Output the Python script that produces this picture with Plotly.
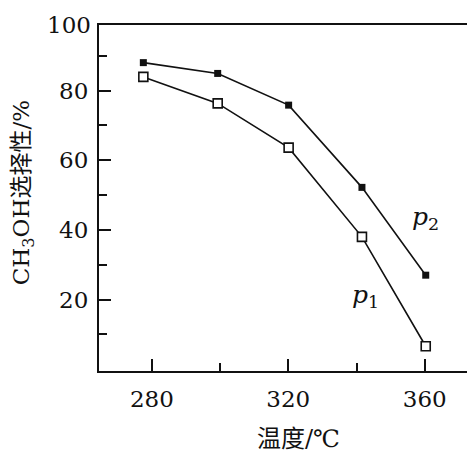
import plotly.graph_objects as go

# Reaction temperature (°C) and CH3OH selectivity (%) at two pressures
temperature = [277.5, 299.3, 320.1, 341.6, 360.3]
selectivity_p2 = [88.0, 84.9, 75.8, 52.2, 27.0]
selectivity_p1 = [83.9, 76.3, 63.6, 38.0, 6.6]

x_major = [280, 320, 360]
x_minor = [300, 340]
y_major = [20, 40, 60, 80]
y_minor = [10, 30, 50, 70, 90]

NUM_FONT = "DejaVu Serif, Liberation Serif, serif"
CJK_FONT = "DejaVu Serif, Noto Sans CJK SC, serif"
INK = "#111111"

fig = go.Figure()

fig.add_trace(go.Scatter(
    x=temperature, y=selectivity_p2, mode="lines+markers",
    line=dict(color=INK, width=1.6),
    marker=dict(symbol="square", size=7, color=INK, line=dict(width=0)),
    name="p2", showlegend=False,
))
fig.add_trace(go.Scatter(
    x=temperature, y=selectivity_p1, mode="lines+markers",
    line=dict(color=INK, width=1.6),
    marker=dict(symbol="square", size=9, color="white", line=dict(color=INK, width=1.6)),
    name="p1", showlegend=False,
))

fig.update_layout(
    width=467, height=453,
    margin=dict(l=99, r=0, t=25, b=82),
    paper_bgcolor="white", plot_bgcolor="white",
    font=dict(family=NUM_FONT, size=23, color=INK),
    xaxis=dict(
        range=[264.5, 372.4], showgrid=False, zeroline=False,
        showline=True, linecolor=INK, linewidth=2, mirror=True,
        tickvals=x_major, ticks="inside", ticklen=12, tickwidth=1.5, tickcolor=INK,
        minor=dict(tickvals=x_minor, ticks="inside", ticklen=8, tickwidth=1.5, tickcolor=INK),
        tickfont=dict(family=NUM_FONT, size=23, color=INK),
        ticklabelstandoff=6,
    ),
    yaxis=dict(
        range=[-0.5, 98.8], showgrid=False, zeroline=False,
        showline=True, linecolor=INK, linewidth=2,
        tickvals=y_major, ticks="inside", ticklen=12, tickwidth=1.5, tickcolor=INK,
        minor=dict(tickvals=y_minor, ticks="inside", ticklen=8, tickwidth=1.5, tickcolor=INK),
        tickfont=dict(family=NUM_FONT, size=23, color=INK),
        ticklabelstandoff=4,
    ),
)

# top value label of the y axis sits on the frame edge
fig.add_annotation(xref="paper", yref="paper", x=0, y=1, xanchor="right", yanchor="middle",
                   xshift=-6, text="100", showarrow=False,
                   font=dict(family=NUM_FONT, size=23, color=INK))

# axis titles
fig.add_annotation(xref="x", yref="paper", x=323, y=0, yshift=-68, xanchor="center", yanchor="middle",
                   text="温度/℃", showarrow=False,
                   font=dict(family=CJK_FONT, size=24, color=INK))
fig.add_annotation(xref="paper", yref="y", x=0, xshift=-76, y=50.5, xanchor="center", yanchor="middle",
                   text="CH<sub>3</sub>OH选择性/%", textangle=-90, showarrow=False,
                   font=dict(family=CJK_FONT, size=23, color=INK))

# series labels
fig.add_annotation(x=360.1, y=43.5, text="<i>p</i><sub>2</sub>", showarrow=False,
                   font=dict(family=NUM_FONT, size=25, color=INK))
fig.add_annotation(x=342.5, y=21.0, text="<i>p</i><sub>1</sub>", showarrow=False,
                   font=dict(family=NUM_FONT, size=25, color=INK))

fig.write_html("out.html")
